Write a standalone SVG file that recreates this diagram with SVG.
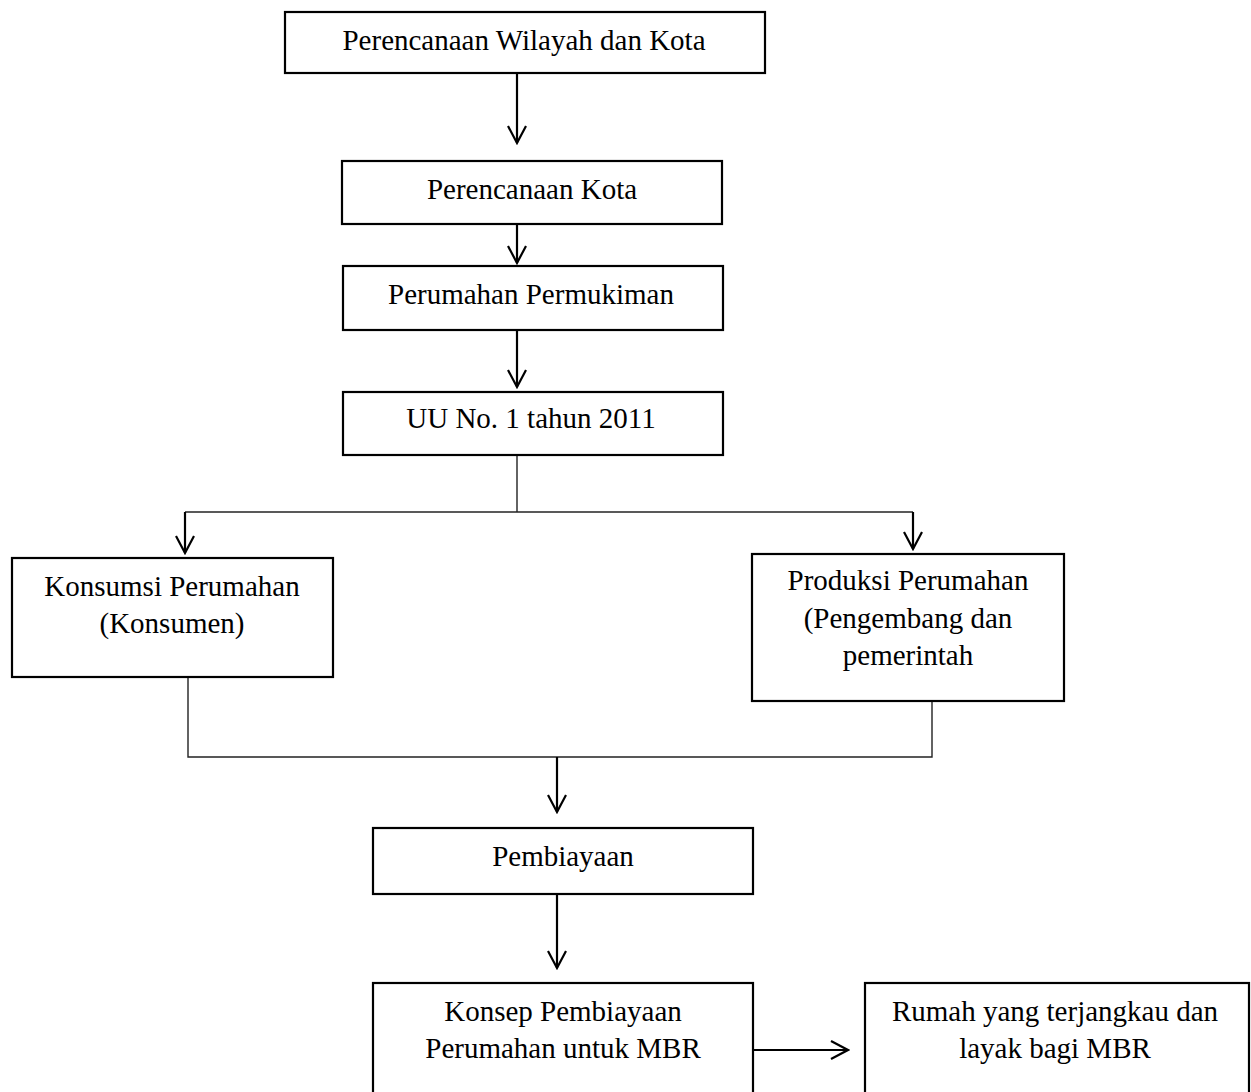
<svg xmlns="http://www.w3.org/2000/svg" width="1251" height="1092" viewBox="0 0 1251 1092">
<style>
.box{fill:#fff;stroke:#000;stroke-width:2.2}
.t{font-family:"Liberation Serif","Times New Roman",serif;font-size:29px;fill:#000;text-anchor:middle}
.arr{fill:none;stroke:#000;stroke-width:2.2;marker-end:url(#ah)}
.ln{fill:none;stroke:#222;stroke-width:1.4}
</style>
<defs>
<marker id="ah" viewBox="0 0 20 20" refX="18" refY="10" markerWidth="20" markerHeight="20" orient="auto" markerUnits="userSpaceOnUse">
<path d="M1,1 L18,10 L1,19" fill="none" stroke="#000" stroke-width="2.2"/>
</marker>
</defs>
<rect width="1251" height="1092" fill="#fff"/>
<g id="connectors">
<line class="arr" x1="517" y1="74" x2="517" y2="143"/>
<line class="arr" x1="517" y1="225" x2="517" y2="263"/>
<line class="arr" x1="517" y1="331" x2="517" y2="387"/>
<polyline class="ln" points="517,456 517,512"/>
<line class="ln" x1="185" y1="512" x2="913" y2="512"/>
<line class="arr" x1="185" y1="512" x2="185" y2="553"/>
<line class="arr" x1="913" y1="512" x2="913" y2="549"/>
<polyline class="ln" points="188,678 188,757 932,757 932,702"/>
<line class="arr" x1="557" y1="757" x2="557" y2="812"/>
<line class="arr" x1="557" y1="895" x2="557" y2="968"/>
<line class="arr" x1="753" y1="1050" x2="848" y2="1050"/>
</g>
<g id="n1"><rect class="box" x="285" y="12" width="480" height="61"/><text class="t" x="524" y="50">Perencanaan Wilayah dan Kota</text></g>
<g id="n2"><rect class="box" x="342" y="161" width="380" height="63"/><text class="t" x="532" y="199">Perencanaan Kota</text></g>
<g id="n3"><rect class="box" x="343" y="266" width="380" height="64"/><text class="t" x="531" y="304">Perumahan Permukiman</text></g>
<g id="n4"><rect class="box" x="343" y="392" width="380" height="63"/><text class="t" x="531" y="428">UU No. 1 tahun 2011</text></g>
<g id="n5"><rect class="box" x="12" y="558" width="321" height="119"/><text class="t" x="172" y="596">Konsumsi Perumahan</text><text class="t" x="172" y="633">(Konsumen)</text></g>
<g id="n6"><rect class="box" x="752" y="554" width="312" height="147"/><text class="t" x="908" y="590">Produksi Perumahan</text><text class="t" x="908" y="628">(Pengembang dan</text><text class="t" x="908" y="665">pemerintah</text></g>
<g id="n7"><rect class="box" x="373" y="828" width="380" height="66"/><text class="t" x="563" y="866">Pembiayaan</text></g>
<g id="n8"><rect class="box" x="373" y="983" width="380" height="120"/><text class="t" x="563" y="1021">Konsep Pembiayaan</text><text class="t" x="563" y="1058">Perumahan untuk MBR</text></g>
<g id="n9"><rect class="box" x="865" y="983" width="384" height="120"/><text class="t" x="1055" y="1021">Rumah yang terjangkau dan</text><text class="t" x="1055" y="1058">layak bagi MBR</text></g>
</svg>
